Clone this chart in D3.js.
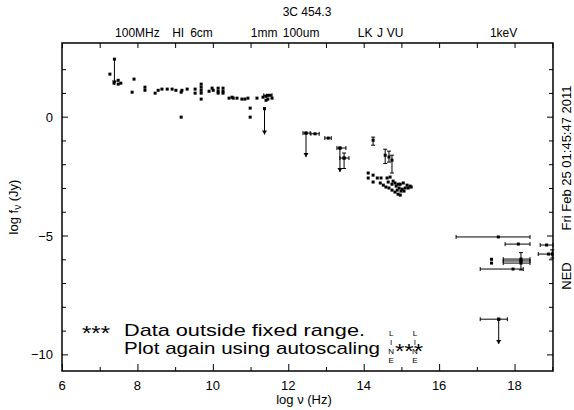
<!DOCTYPE html>
<html>
<head>
<meta charset="utf-8">
<script src="https://cdn.jsdelivr.net/npm/d3@7"></script>
<style>
  body { margin: 0; background: #fff; }
  svg text { font-family: "Liberation Sans", Arial, sans-serif; fill: #000; }
</style>
</head>
<body>
<svg id="drawing_region"></svg>
<script>
// log nu, log f (Jy) -- plain photometry points
const points = [
    [7.27, 1.79], [7.38, 1.41], [7.49, 1.53], [7.49, 1.37], [7.56, 1.41],
    [7.91, 1.58], [7.86, 1.03], [8.20, 1.24], [8.20, 1.11], [8.47, 0.99],
    [8.55, 1.11], [8.65, 1.16], [8.79, 1.16], [8.92, 1.16], [9.02, 1.11],
    [9.16, 1.03], [9.16, -0.02], [9.18, 1.11], [9.32, 1.16], [9.53, 1.16],
    [9.53, 0.99], [9.69, 1.37], [9.69, 1.24], [9.69, 1.11], [9.69, 0.99],
    [9.69, 0.74], [9.90, 1.07], [9.98, 1.20], [10.01, 1.11], [10.14, 1.20],
    [10.14, 1.07], [10.14, 0.99], [10.27, 1.20], [10.27, 1.07], [10.27, 0.99],
    [10.43, 0.78], [10.51, 0.82], [10.54, 0.78], [10.64, 0.78], [10.77, 0.74],
    [10.85, 0.74], [10.93, 0.78], [10.99, 0.36], [10.99, -0.02], [11.17, 0.78],
    [11.41, 0.86], [11.46, 0.74], [11.52, 0.90], [11.57, 0.78], [11.41, 0.69],
    [11.33, 0.82],
    [14.12, -2.37], [14.12, -2.58], [14.25, -2.46], [14.36, -2.58], [14.25, -2.75],
    [14.46, -2.58], [14.62, -2.58], [14.70, -2.54], [14.78, -2.71], [14.83, -2.79],
    [14.91, -2.84], [14.97, -2.84], [15.05, -2.79], [15.15, -2.88], [15.23, -2.92],
    [14.44, -2.79], [14.52, -2.88], [14.59, -2.96], [14.67, -3.00], [14.75, -3.09],
    [14.83, -3.17], [14.91, -3.26], [14.97, -3.30], [14.65, -2.75], [14.75, -2.84],
    [14.86, -2.92], [14.94, -3.00], [15.02, -3.05], [15.10, -3.00], [15.18, -3.00],
    [15.26, -2.96], [14.89, -3.09], [14.99, -3.13], [15.07, -3.13],
    [17.39, -6.00], [17.39, -6.16]
];
// log nu, log f, nu low, nu high
const xErrors = [
    [11.45, 0.90, 11.35, 11.57], [12.47, -0.69, 12.39, 12.58], [12.71, -0.72, 12.60, 12.82],
    [13.06, -0.90, 12.97, 13.14], [13.37, -1.32, 13.29, 13.53], [13.48, -1.74, 13.37, 13.61],
    [17.57, -5.06, 16.45, 18.41], [18.10, -5.36, 17.75, 18.41], [18.85, -5.40, 18.68, 19.02],
    [18.90, -5.78, 18.63, 19.00], [18.17, -5.99, 17.70, 18.41], [18.17, -6.07, 17.70, 18.41],
    [18.17, -6.16, 17.70, 18.41], [17.96, -6.41, 17.09, 18.23], [17.58, -8.52, 17.09, 17.81]
];
// log nu, log f, f high, f low
const yErrors = [
    [13.48, -1.74, -1.53, -2.18], [14.25, -0.99, -0.86, -1.20], [14.57, -1.62, -1.37, -1.97],
    [14.67, -1.70, -1.45, -1.91], [14.75, -1.83, -1.62, -2.37], [18.17, -6.07, -5.72, -6.45],
    [19.00, -5.78, -5.60, -5.95]
];
// upper limits: log nu, log f, arrow tip
const upperLimits = [
    [7.39, 2.42, 1.35], [11.37, 0.34, -0.75], [12.47, -0.69, -1.70],
    [13.37, -1.32, -2.33], [17.58, -8.52, -9.56]
];
const topLabels = [
    ['100MHz', 8.0], ['HI', 9.08], ['6cm', 9.7], ['1mm', 11.36], ['100um', 12.34],
    ['LK', 14.04], ['J', 14.43], ['VU', 14.83], ['1keV', 17.71]
];
const xTicks = d3.range(6, 20, 1);
const xTickLabels = [6, 8, 10, 12, 14, 16, 18];
const yTicks = d3.range(-10, 3, 1);
const yTickLabels = [0, -5, -10];
const lineMarks = [14.73, 15.36];

const width = 574, height = 410;
const margin = {top: 43, right: 21, bottom: 39, left: 62};

const svg = d3.select('#drawing_region')
    .attr('width', width)
    .attr('height', height);

const x = d3.scaleLinear().domain([6, 19.02]).range([margin.left, width - margin.right]);
const y = d3.scaleLinear().domain([3.1, -10.7]).range([margin.top, height - margin.bottom]);

// frame
svg.append('rect')
    .attr('x', x(6)).attr('y', y(3.1))
    .attr('width', x(19.02) - x(6)).attr('height', y(-10.7) - y(3.1))
    .attr('fill', 'none').attr('stroke', '#000').attr('stroke-width', 1.5);

// axes with inward ticks
svg.append('g')
    .attr('transform', `translate(0,${y(-10.7)})`)
    .call(d3.axisTop(x).tickValues(xTicks).tickFormat('')
        .tickSizeInner(0).tickSizeOuter(0))
    .call(g => g.select('.domain').remove())
    .call(g => g.selectAll('.tick line')
        .attr('y2', d => xTickLabels.includes(d) ? -7 : -4)
        .attr('stroke-width', 1));
svg.append('g')
    .attr('transform', `translate(0,${y(3.1)})`)
    .call(d3.axisBottom(x).tickValues(xTicks).tickFormat('')
        .tickSize(5).tickSizeOuter(0))
    .call(g => g.select('.domain').remove());
svg.append('g')
    .attr('transform', `translate(${x(6)},0)`)
    .call(d3.axisRight(y).tickValues(yTicks).tickFormat('').tickSizeOuter(0))
    .call(g => g.select('.domain').remove())
    .call(g => g.selectAll('.tick line')
        .attr('x2', d => yTickLabels.includes(d) ? 6 : 4));
svg.append('g')
    .attr('transform', `translate(${x(19.02)},0)`)
    .call(d3.axisLeft(y).tickValues(yTicks).tickFormat('').tickSizeOuter(0))
    .call(g => g.select('.domain').remove())
    .call(g => g.selectAll('.tick line')
        .attr('x2', d => yTickLabels.includes(d) ? -6 : -4));

// tick labels
svg.append('g').selectAll('text')
    .data(xTickLabels).join('text')
    .attr('x', d => x(d)).attr('y', 390)
    .attr('text-anchor', 'middle').style('font-size', '13px')
    .text(d => d);
svg.append('g').selectAll('text')
    .data(yTickLabels).join('text')
    .attr('x', x(6) - 9).attr('y', d => y(d) + 5)
    .attr('text-anchor', 'end').style('font-size', '13px')
    .text(d => d < 0 ? '\u2212' + (-d) : d);
svg.append('g').selectAll('text')
    .data(topLabels).join('text')
    .attr('x', d => x(d[1])).attr('y', 37)
    .attr('text-anchor', 'middle').style('font-size', '12px')
    .text(d => d[0]);

// titles
svg.append('text')
    .attr('x', 307).attr('y', 16)
    .attr('text-anchor', 'middle').style('font-size', '12px')
    .text('3C 454.3');
svg.append('text')
    .attr('x', 304).attr('y', 404)
    .attr('text-anchor', 'middle').style('font-size', '13px')
    .text('log \u03bd (Hz)');
const ylab = svg.append('text')
    .attr('transform', 'translate(18,207) rotate(-90)')
    .attr('text-anchor', 'middle').style('font-size', '13px');
ylab.append('tspan').text('log f');
ylab.append('tspan').attr('dy', 3).style('font-size', '10px').text('\u03bd');
ylab.append('tspan').attr('dy', -3).text(' (Jy)');
svg.append('text')
    .attr('transform', 'translate(571,158) rotate(-90)')
    .attr('text-anchor', 'middle').style('font-size', '13px')
    .text('Fri Feb 25 01:45:47 2011');
svg.append('text')
    .attr('transform', 'translate(571,276) rotate(-90)')
    .attr('text-anchor', 'middle').style('font-size', '13px')
    .text('NED');

// error bars
const ebars = svg.append('g').attr('stroke', '#000').attr('stroke-width', 1);
xErrors.forEach(d => {
    ebars.append('line')
        .attr('x1', x(d[2])).attr('x2', x(d[3]))
        .attr('y1', y(d[1])).attr('y2', y(d[1]));
    [d[2], d[3]].forEach(v => ebars.append('line')
        .attr('x1', x(v)).attr('x2', x(v))
        .attr('y1', y(d[1]) - 2).attr('y2', y(d[1]) + 2));
});
yErrors.forEach(d => {
    ebars.append('line')
        .attr('x1', x(d[0])).attr('x2', x(d[0]))
        .attr('y1', y(d[2])).attr('y2', y(d[3]));
    [d[2], d[3]].forEach(v => ebars.append('line')
        .attr('x1', x(d[0]) - 2).attr('x2', x(d[0]) + 2)
        .attr('y1', y(v)).attr('y2', y(v)));
});

// upper limit arrows
const ul = svg.append('g');
ul.selectAll('line')
    .data(upperLimits).join('line')
    .attr('x1', d => x(d[0])).attr('x2', d => x(d[0]))
    .attr('y1', d => y(d[1])).attr('y2', d => y(d[2]))
    .attr('stroke', '#000').attr('stroke-width', 1);
ul.selectAll('path')
    .data(upperLimits).join('path')
    .attr('d', d => {
        const px = x(d[0]), py = y(d[2]);
        return `M${px - 2.5},${py - 4}L${px + 2.5},${py - 4}L${px},${py}Z`;
    })
    .attr('fill', '#000');
ul.selectAll('rect')
    .data(upperLimits).join('rect')
    .attr('x', d => x(d[0]) - 1.5).attr('y', d => y(d[1]) - 1.5)
    .attr('width', 3).attr('height', 3).attr('fill', '#000');

// points
const allPts = points
    .concat(xErrors.map(d => [d[0], d[1]]))
    .concat(yErrors.map(d => [d[0], d[1]]));
svg.append('g').selectAll('rect')
    .data(allPts)
    .join('rect')
    .attr('x', d => x(d[0]) - 1.5).attr('y', d => y(d[1]) - 1.5)
    .attr('width', 3).attr('height', 3)
    .attr('fill', '#000');

// out-of-range notice
svg.append('text').attr('x', 82).attr('y', 340)
    .attr('textLength', 28).attr('lengthAdjust', 'spacingAndGlyphs')
    .style('font-size', '21px').text('***');
svg.append('text').attr('x', 124).attr('y', 336)
    .attr('textLength', 241).attr('lengthAdjust', 'spacingAndGlyphs')
    .style('font-size', '17px')
    .text('Data outside fixed range.');
svg.append('text').attr('x', 124).attr('y', 354)
    .attr('textLength', 256).attr('lengthAdjust', 'spacingAndGlyphs')
    .style('font-size', '17px')
    .text('Plot again using autoscaling');
svg.append('text').attr('x', 395).attr('y', 358)
    .attr('textLength', 28).attr('lengthAdjust', 'spacingAndGlyphs')
    .style('font-size', '21px').text('***');

// LINE markers
const lm = svg.append('g');
lineMarks.forEach(v => {
    ['L', 'I', 'N', 'E'].forEach((c, i) => {
        lm.append('text')
            .attr('x', x(v)).attr('y', 336 + i * 9)
            .attr('text-anchor', 'middle').style('font-size', '8px')
            .text(c);
    });
});
</script>
</body>
</html>
